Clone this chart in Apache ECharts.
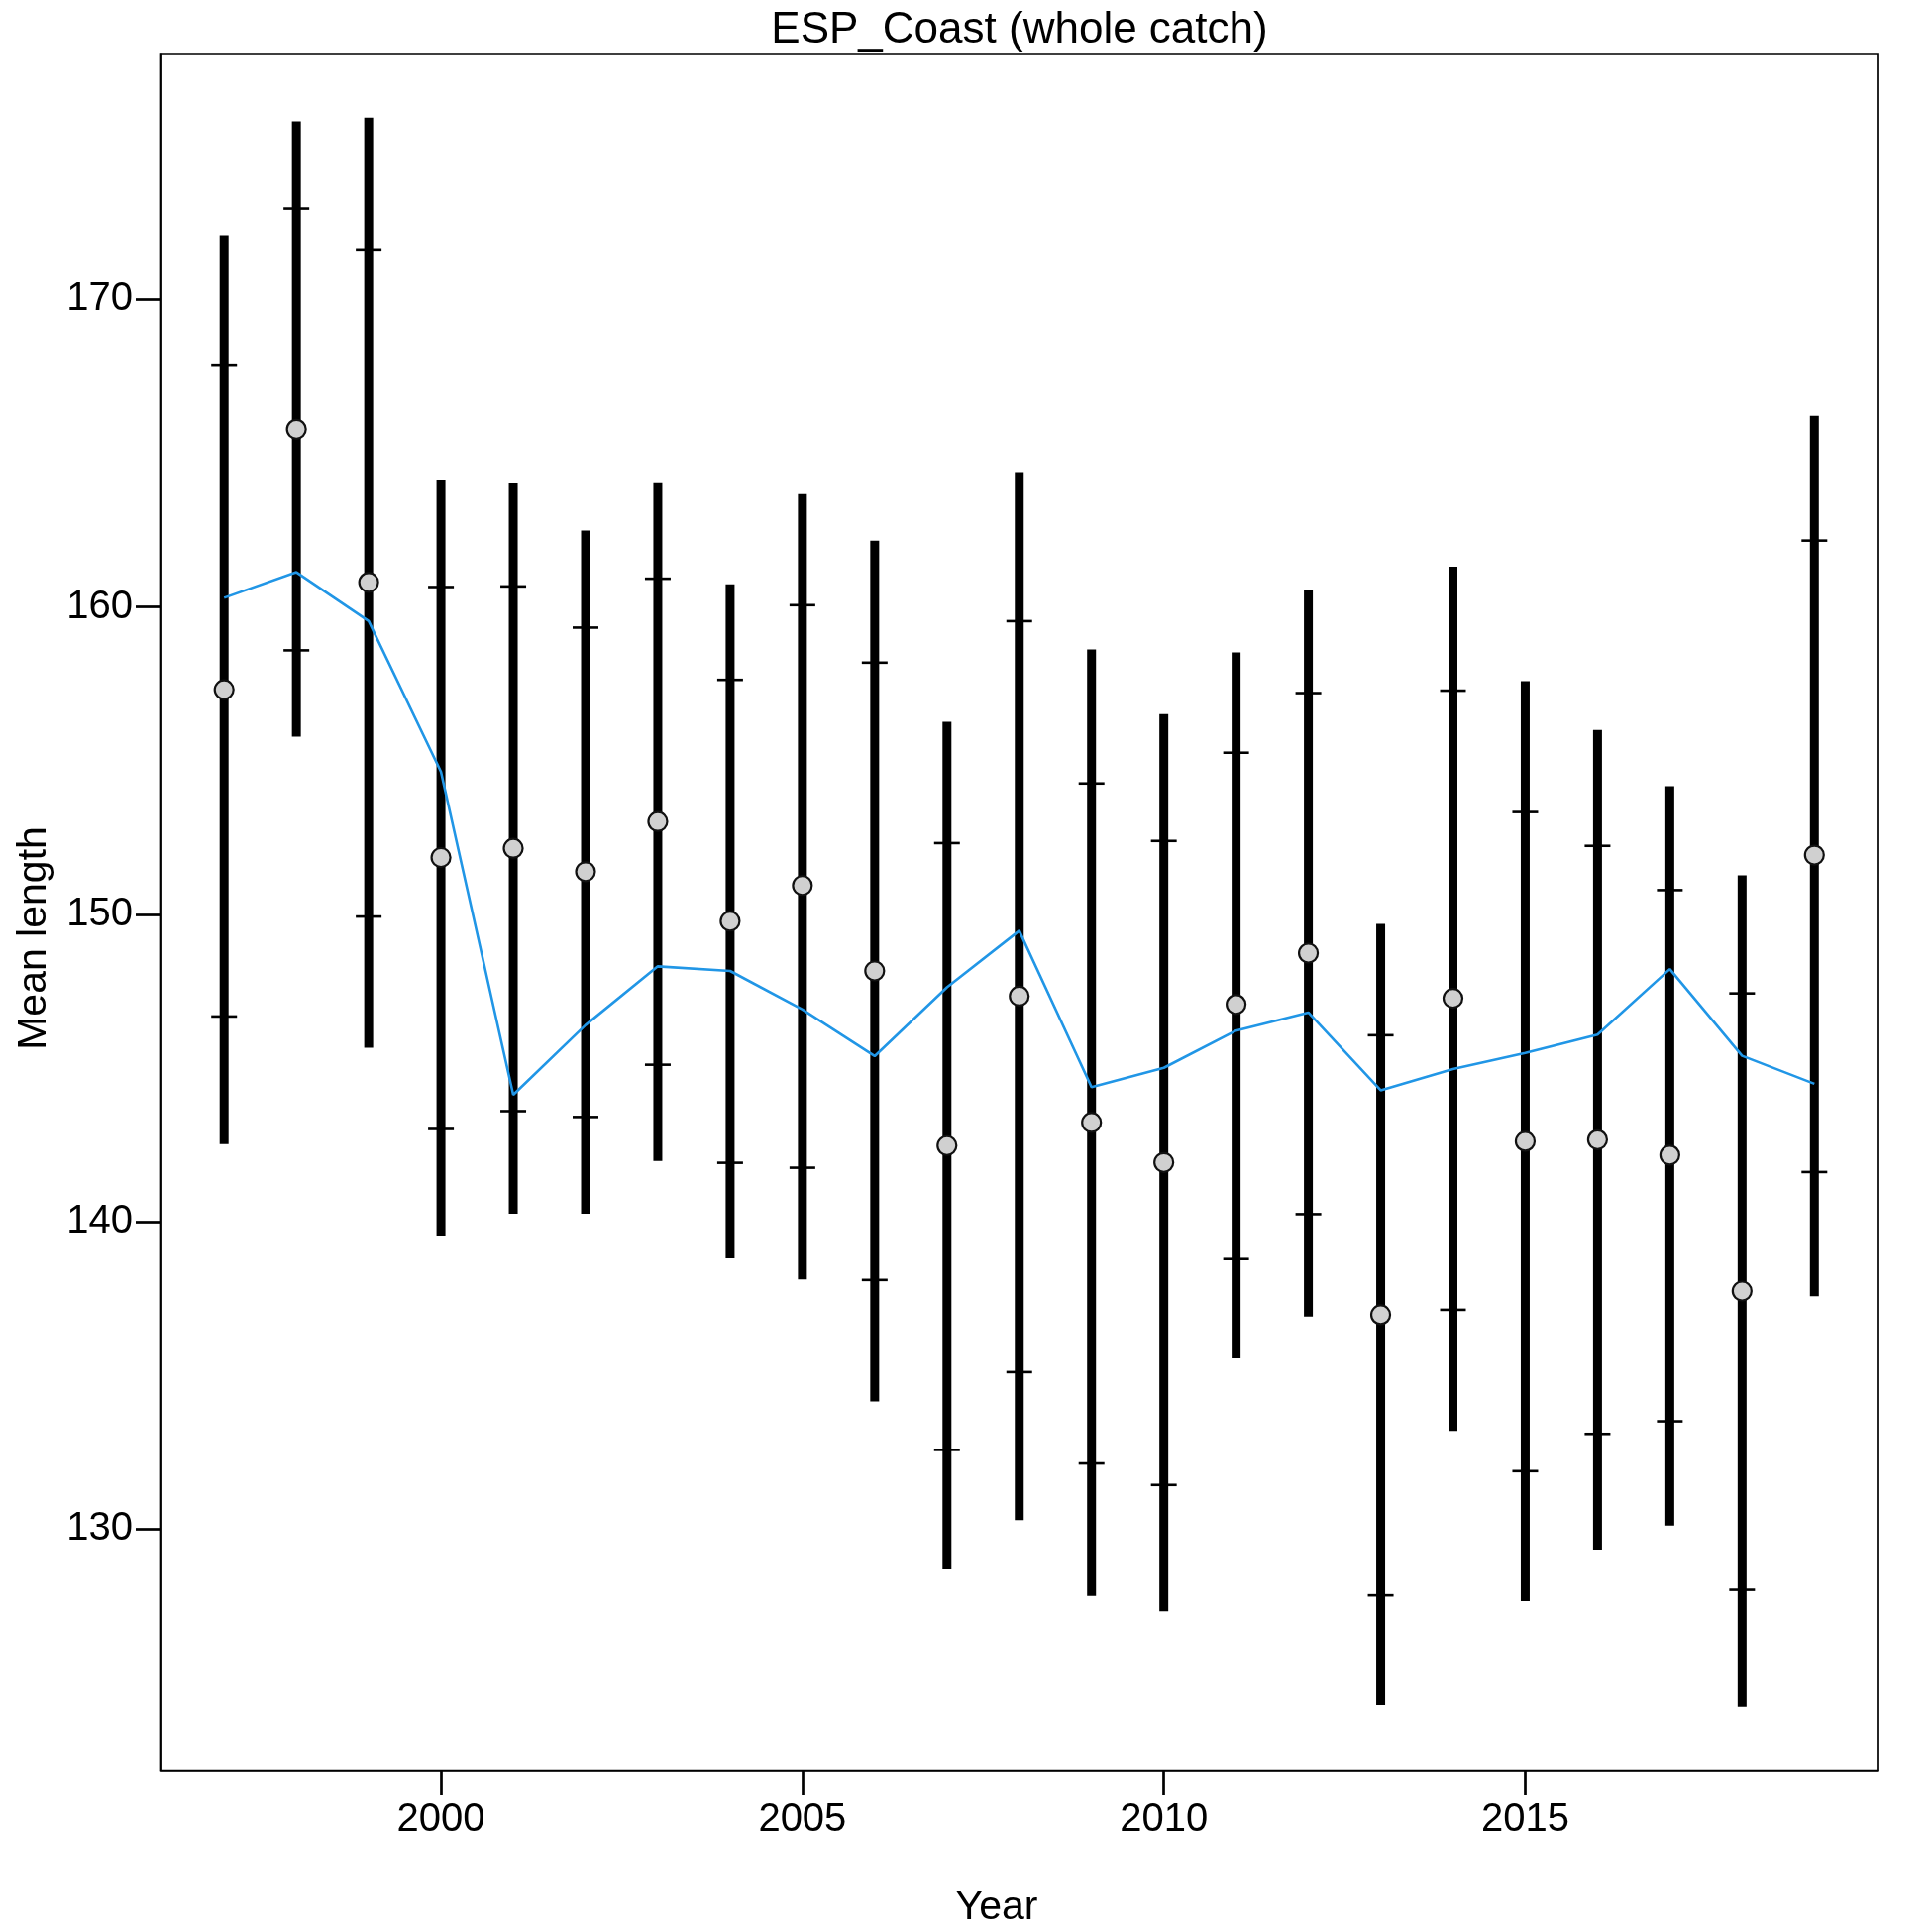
<!DOCTYPE html>
<html>
<head>
<meta charset="utf-8">
<script src="https://cdn.jsdelivr.net/npm/echarts@6/dist/echarts.min.js"></script>
<style>
html,body{margin:0;padding:0;background:#fff;}
#chart{width:1950px;height:1950px;}
</style>
</head>
<body>
<div id="chart"></div>
<script>
var years = [1997,1998,1999,2000,2001,2002,2003,2004,2005,2006,2007,2008,2009,2010,2011,2012,2013,2014,2015,2016,2017,2018,2019];
var observed = [157.31,165.78,160.80,151.85,152.15,151.39,153.02,149.78,150.94,148.16,142.48,147.34,143.23,141.93,147.07,148.74,136.98,147.27,142.62,142.67,142.17,137.75,151.93];
var outerLow  = [142.53,155.78,145.66,139.52,140.26,140.26,141.98,138.81,138.13,134.16,128.69,130.30,127.83,127.33,135.56,136.92,124.28,133.20,127.66,129.34,130.12,124.22,137.58];
var outerHigh = [172.09,175.80,175.92,164.15,164.03,162.49,164.06,160.74,163.67,162.16,156.27,164.39,158.62,156.52,158.52,160.55,149.69,161.31,157.59,156.00,154.17,151.27,166.22];
var innerLow  = [146.68,158.59,149.93,143.02,143.60,143.41,145.11,141.92,141.76,138.11,132.58,135.11,132.14,131.44,138.79,140.25,127.85,137.14,131.89,133.10,133.51,128.03,141.62];
var innerHigh = [167.88,172.96,171.63,160.65,160.67,159.33,160.92,157.63,160.06,158.19,152.32,159.54,154.26,152.39,155.26,157.20,146.07,157.28,153.33,152.23,150.79,147.43,162.16];
var expected  = [160.30,161.13,159.54,154.64,144.13,146.40,148.31,148.16,146.91,145.39,147.63,149.47,144.38,145.01,146.22,146.81,144.28,144.97,145.49,146.09,148.22,145.40,144.49];
var xTicks = [2000,2005,2010,2015];
var yTicks = [130,140,150,160,170];
var titleText = 'ESP_Coast (whole catch)';
var xName = 'Year';
var yName = 'Mean length';

var barData = years.map(function(y,i){ return [y, outerLow[i], outerHigh[i], innerLow[i], innerHigh[i]]; });
var pointData = years.map(function(y,i){ return [y, observed[i]]; });
var expData = years.map(function(y,i){ return [y, expected[i]]; });

var chart = echarts.init(document.getElementById('chart'));
var FONT = 'Liberation Sans, Arial, sans-serif';
function plain(v){ return String(v); }
chart.setOption({
  animation: false,
  backgroundColor: '#ffffff',
  grid: {left: 162, right: 54.5, top: 54.5, bottom: 163, show: true, borderColor: '#000', borderWidth: 2.7, backgroundColor: 'transparent'},
  xAxis: {
    type: 'value', min: 1996.12, max: 2019.88,
    axisLine: {show: true, onZero: false, lineStyle: {color: '#000', width: 2.7}},
    axisTick: {show: true, customValues: xTicks, length: 25, lineStyle: {color: '#000', width: 2.7}},
    axisLabel: {show: true, customValues: xTicks, formatter: plain, margin: 30, color: '#000', fontSize: 40, fontFamily: FONT},
    splitLine: {show: false}
  },
  yAxis: {
    type: 'value', min: 122.15, max: 177.99,
    axisLine: {show: true, onZero: false, lineStyle: {color: '#000', width: 2.7}},
    axisTick: {show: true, customValues: yTicks, length: 25, lineStyle: {color: '#000', width: 2.7}},
    axisLabel: {show: true, customValues: yTicks, formatter: plain, margin: 28, color: '#000', fontSize: 40, fontFamily: FONT},
    splitLine: {show: false}
  },
  graphic: [
    {type: 'text', x: 1029, y: 31, style: {text: titleText, fill: '#000', font: '44px ' + FONT, textAlign: 'center', textVerticalAlign: 'middle'}},
    {type: 'text', x: 1006, y: 1926, style: {text: xName, fill: '#000', font: '41px ' + FONT, textAlign: 'center', textVerticalAlign: 'middle'}},
    {type: 'text', x: 35, y: 947, rotation: Math.PI/2, style: {text: yName, fill: '#000', font: '41px ' + FONT, textAlign: 'center', textVerticalAlign: 'middle'}}
  ],
  series: [
    {
      type: 'custom',
      data: barData,
      encode: {x: 0, y: [1,2,3,4]},
      z: 2,
      renderItem: function(params, api){
        var x = api.value(0);
        var lo = api.coord([x, api.value(1)]);
        var hi = api.coord([x, api.value(2)]);
        var il = api.coord([x, api.value(3)]);
        var ih = api.coord([x, api.value(4)]);
        var hw = 13;
        return {type: 'group', children: [
          {type: 'line', shape: {x1: lo[0], y1: lo[1], x2: hi[0], y2: hi[1]}, style: {stroke: '#000', lineWidth: 9, lineCap: 'butt'}},
          {type: 'line', shape: {x1: il[0]-hw, y1: il[1], x2: il[0]+hw, y2: il[1]}, style: {stroke: '#000', lineWidth: 2.6, lineCap: 'butt'}},
          {type: 'line', shape: {x1: ih[0]-hw, y1: ih[1], x2: ih[0]+hw, y2: ih[1]}, style: {stroke: '#000', lineWidth: 2.6, lineCap: 'butt'}}
        ]};
      }
    },
    {
      type: 'scatter', data: pointData, z: 3,
      symbol: 'circle', symbolSize: 19,
      itemStyle: {color: '#d0d0d0', borderColor: '#111', borderWidth: 2.2, opacity: 1}
    },
    {
      type: 'line', data: expData, z: 4,
      showSymbol: false, symbol: 'none',
      lineStyle: {color: '#2196E6', width: 2.6}
    }
  ]
});
</script>
</body>
</html>
